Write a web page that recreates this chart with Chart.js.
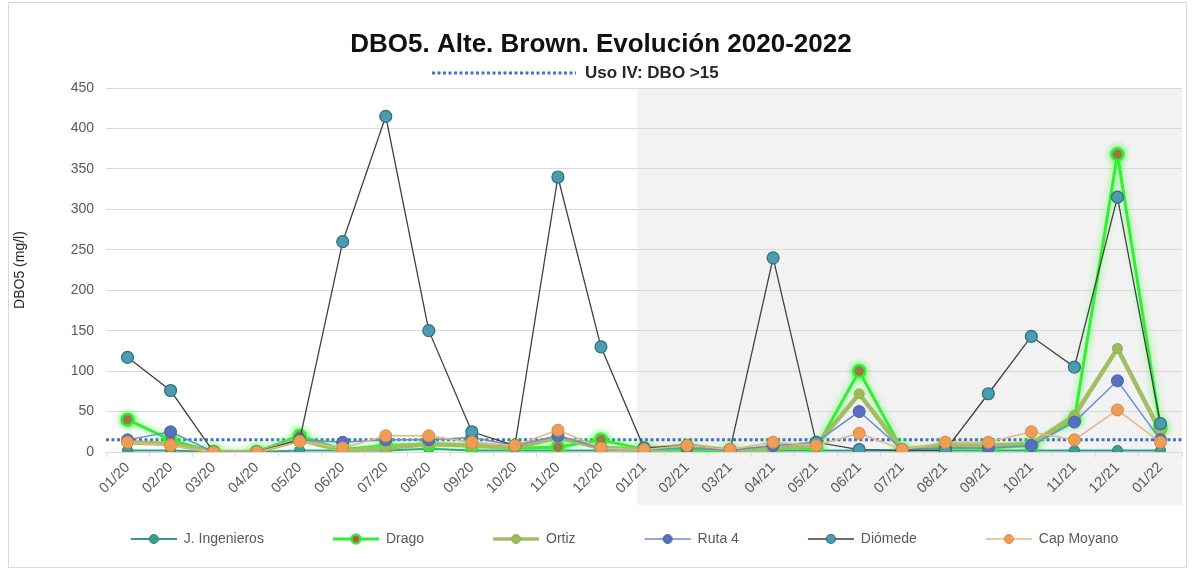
<!DOCTYPE html>
<html>
<head>
<meta charset="utf-8">
<script src="https://cdn.jsdelivr.net/npm/chart.js@4.4.1/dist/chart.umd.min.js"></script>
<style>
  html, body { margin: 0; padding: 0; background: #ffffff; }
  #wrap { width: 1193px; height: 570px; position: relative; }
</style>
</head>
<body>
<div id="wrap"><canvas id="c" width="1193" height="570"></canvas></div>
<script>
// ---- Data ----
const categories = ['01/20','02/20','03/20','04/20','05/20','06/20','07/20','08/20','09/20','10/20','11/20','12/20',
                    '01/21','02/21','03/21','04/21','05/21','06/21','07/21','08/21','09/21','10/21','11/21','12/21','01/22'];
const jIngenieros = [2,2,0,0,2,2,2,4,2,2,2,2,2,2,2,2,2,2,2,2,2,2,2,2,2];
const drago       = [40,15,0,0,20,3,8,10,8,5,6,15,3,3,0,5,5,100,2,5,5,8,40,368,30];
const ortiz       = [12,10,0,0,15,2,5,10,8,5,18,5,3,8,2,5,8,72,3,8,8,10,45,128,25];
const ruta4       = [15,25,0,0,15,12,15,15,18,8,20,5,3,5,2,8,12,50,3,5,5,8,37,88,15];
const diomede     = [117,76,0,0,15,260,415,150,25,8,340,130,5,8,3,240,12,3,2,2,72,143,105,315,35];
const capMoyano   = [12,8,0,0,13,5,20,20,12,8,27,5,3,8,3,12,8,23,3,12,12,25,15,52,12];
const threshold = 15;
const titleText = 'DBO5. Alte. Brown. Evolución 2020-2022';
const thresholdLabel = 'Uso IV: DBO >15';
const yTicks = [0,50,100,150,200,250,300,350,400,450];

const FONT = '"Liberation Sans", Arial, sans-serif';

function legendIcon(lineColor, lineWidth, fill, border, borderW, lead) {
  const w = 46 + lead, h = 16;
  const c = document.createElement('canvas');
  c.width = w; c.height = h;
  const x = c.getContext('2d');
  x.strokeStyle = lineColor; x.lineWidth = lineWidth;
  x.beginPath(); x.moveTo(lead, h/2); x.lineTo(w, h/2); x.stroke();
  x.beginPath(); x.arc(lead + 23, h/2, 4.5, 0, Math.PI*2);
  x.fillStyle = fill; x.fill();
  x.lineWidth = borderW; x.strokeStyle = border; x.stroke();
  return c;
}

const series = [
  {label:'J. Ingenieros', data:jIngenieros, line:'#2e9c90', lw:2, fill:'#3a9e94', border:'#2b8278', bw:1, r:5, order:6},
  {label:'Drago', data:drago, line:'#33ee33', lw:3, fill:'#c0504d', border:'#33ee33', bw:2.5, r:6, order:5},
  {label:'Ortiz', data:ortiz, line:'#a3bd62', lw:4.5, fill:'#9bbb59', border:'#8fae55', bw:1, r:5, order:4},
  {label:'Ruta 4', data:ruta4, line:'#6f8ad4', lw:1.5, fill:'#5670c0', border:'#4a62a8', bw:1, r:6, order:3},
  {label:'Diómede', data:diomede, line:'#404040', lw:1.3, fill:'#4a9cae', border:'#2f6f80', bw:1.2, r:6, order:2},
  {label:'Cap Moyano', data:capMoyano, line:'#e6b488', lw:1.5, fill:'#ee9d55', border:'#d88a45', bw:1, r:6, order:1}
];

const LEAD = 59;
const icons = series.map(s => legendIcon(s.line, Math.min(s.lw, 3.5), s.fill, s.border, s.bw, LEAD));

const datasets = series.map(s => ({
  label: s.label,
  data: s.data,
  borderColor: s.line,
  borderWidth: s.lw,
  backgroundColor: s.fill,
  pointBackgroundColor: s.fill,
  pointBorderColor: s.border,
  pointBorderWidth: s.bw,
  pointRadius: s.r,
  pointHoverRadius: s.r,
  tension: 0,
  order: s.order,
  fill: false
}));

const decorPlugin = {
  id: 'decor',
  beforeDraw(chart) {
    const {ctx, chartArea, scales} = chart;
    const x = scales.x;
    const spacing = x.getPixelForValue(1) - x.getPixelForValue(0);
    const shadeLeft = x.getPixelForValue(12) - spacing * 0.16;
    ctx.save();
    ctx.fillStyle = '#f2f2f2';
    ctx.fillRect(shadeLeft, chartArea.top, chartArea.right - shadeLeft, 505 - chartArea.top);
    ctx.strokeStyle = '#d9d9d9';
    ctx.lineWidth = 1;
    ctx.strokeRect(8.5, 2.5, 1178, 565);
    ctx.restore();
  },
  beforeDatasetsDraw(chart) {
    const {ctx, chartArea, scales} = chart;
    const y = scales.y.getPixelForValue(threshold);
    ctx.save();
    ctx.strokeStyle = '#4472c4';
    ctx.lineWidth = 3;
    ctx.setLineDash([3, 2.5]);
    ctx.beginPath();
    ctx.moveTo(chartArea.left, y);
    ctx.lineTo(chartArea.right, y);
    ctx.stroke();
    ctx.restore();
  },
  beforeDatasetDraw(chart, args) {
    if (args.index === 1) {
      chart.ctx.save();
      chart.ctx.shadowColor = 'rgba(40,255,40,0.75)';
      chart.ctx.shadowBlur = 7;
    }
  },
  afterDatasetDraw(chart, args) {
    if (args.index === 1) chart.ctx.restore();
  },
  afterDraw(chart) {
    const {ctx} = chart;
    ctx.save();
    ctx.fillStyle = '#111111';
    ctx.font = 'bold 26px ' + FONT;
    ctx.textAlign = 'center';
    ctx.textBaseline = 'middle';
    ctx.fillText(titleText, 601, 45);
    ctx.strokeStyle = '#4472c4';
    ctx.lineWidth = 3;
    ctx.setLineDash([3, 2.5]);
    ctx.beginPath();
    ctx.moveTo(432, 73);
    ctx.lineTo(576, 73);
    ctx.stroke();
    ctx.setLineDash([]);
    ctx.font = 'bold 17px ' + FONT;
    ctx.textAlign = 'left';
    ctx.fillStyle = '#262626';
    ctx.fillText(thresholdLabel, 585, 73);
    ctx.restore();
  }
};

new Chart(document.getElementById('c'), {
  type: 'line',
  data: { labels: categories, datasets },
  plugins: [decorPlugin],
  options: {
    responsive: false,
    animation: false,
    layout: { padding: { top: 88, left: 8, right: 11, bottom: 14 } },
    plugins: {
      title: { display: false },
      tooltip: { enabled: false },
      legend: {
        position: 'bottom',
        labels: {
          usePointStyle: true,
          pointStyleWidth: 46 + LEAD,
          padding: 10,
          color: '#595959',
          font: { family: FONT, size: 14 },
          generateLabels(chart) {
            return chart.data.datasets.map((ds, i) => ({
              text: ds.label,
              pointStyle: icons[i],
              fillStyle: 'transparent',
              strokeStyle: 'transparent',
              lineWidth: 0,
              fontColor: '#595959',
              hidden: false,
              datasetIndex: i
            }));
          }
        }
      }
    },
    scales: {
      x: {
        offset: true,
        afterFit(scale) { scale.height = 70; },
        grid: { display: true, drawOnChartArea: false, drawTicks: true, tickLength: 5, color: '#d9d9d9', offset: true },
        border: { display: true, color: '#d9d9d9' },
        ticks: {
          autoSkip: false, maxRotation: 45, minRotation: 45,
          color: '#595959', font: { family: FONT, size: 14.5 }, padding: 2
        }
      },
      y: {
        min: 0, max: 450,
        afterFit(scale) { scale.width = 98; },
        afterBuildTicks(scale) { scale.ticks = yTicks.map(v => ({ value: v })); },
        grid: { color: '#d9d9d9', drawTicks: false },
        border: { display: false },
        ticks: { color: '#595959', font: { family: FONT, size: 14 }, padding: 12 },
        title: { display: true, text: 'DBO5 (mg/l)', color: '#262626', font: { family: FONT, size: 14 } }
      }
    }
  }
});
</script>
</body>
</html>
